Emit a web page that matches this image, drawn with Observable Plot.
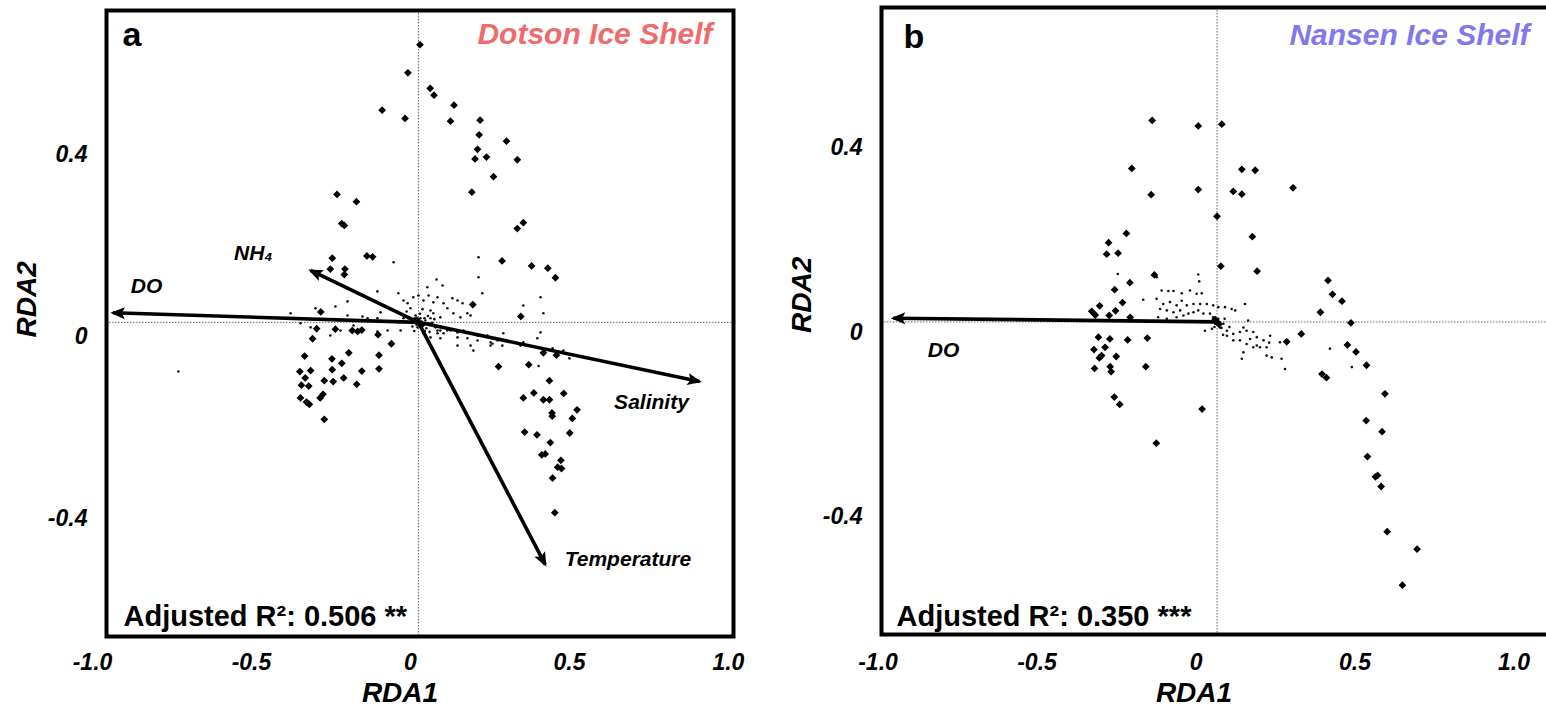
<!DOCTYPE html>
<html>
<head>
<meta charset="utf-8">
<script src="https://cdn.jsdelivr.net/npm/d3@7"></script>
<script src="https://cdn.jsdelivr.net/npm/@observablehq/plot@0.6"></script>
<style>
  html, body { margin: 0; padding: 0; background: #fff; }
  #wrap { display: flex; flex-direction: row; width: 1546px; height: 722px; overflow: hidden; }
  svg { font-family: "Liberation Sans", Arial, sans-serif; }
</style>
</head>
<body>
<div id="wrap"></div>
<script>
// ---------- Data (RDA1, RDA2) ----------
const xTicks = [-1.0, -0.5, 0, 0.5, 1.0];
const yTicks = [-0.4, 0, 0.4];

// Panel a: Dotson Ice Shelf
const originA = [0.025, 0.031];
const sitesA = [
  [0.030,0.641],[-0.008,0.579],[0.062,0.545],[0.074,0.530],[-0.089,0.497],[-0.017,0.479],[0.137,0.508],[0.126,0.473],
  [0.219,0.475],[0.216,0.443],[0.302,0.429],[0.211,0.411],[0.239,0.394],[0.203,0.390],[0.336,0.388],[0.261,0.351],
  [0.193,0.317],[-0.231,0.312],[-0.170,0.296],[-0.216,0.248],[-0.208,0.244],[0.355,0.250],[0.336,0.237],[-0.137,0.177],
  [-0.119,0.175],[-0.246,0.172],[0.288,0.166],[0.381,0.155],[0.432,0.150],[0.456,0.129],[-0.252,0.148],[-0.206,0.148],
  [-0.208,0.136],[0.196,0.070],[0.347,0.044],[-0.282,0.054],[-0.295,0.017],[-0.236,0.016],[-0.183,0.013],[-0.166,0.011],
  [-0.153,0.014],[-0.308,-0.005],[-0.102,0.004],[-0.060,-0.016],[-0.194,-0.036],[-0.099,-0.041],[-0.333,-0.043],[-0.247,-0.049],
  [-0.216,-0.059],[-0.348,-0.077],[-0.314,-0.075],[-0.153,-0.076],[-0.099,-0.071],[-0.331,-0.091],[-0.271,-0.097],[-0.246,-0.073],
  [-0.210,-0.091],[-0.169,-0.105],[-0.343,-0.107],[-0.320,-0.109],[-0.243,-0.099],[-0.275,-0.127],[-0.346,-0.135],[-0.327,-0.144],
  [-0.318,-0.149],[-0.284,-0.135],[-0.271,-0.182],[0.277,-0.066],[0.372,-0.062],[0.418,-0.036],[0.459,-0.041],[0.437,-0.097],
  [0.355,-0.135],[0.388,-0.124],[0.418,-0.139],[0.437,-0.139],[0.482,-0.125],[0.445,-0.168],[0.446,-0.175],[0.524,-0.161],
  [0.509,-0.180],[0.359,-0.210],[0.398,-0.216],[0.440,-0.233],[0.501,-0.212],[0.413,-0.260],[0.424,-0.258],[0.473,-0.272],
  [0.463,-0.287],[0.475,-0.290],[0.447,-0.311],[0.454,-0.387],[0.025,0.031],[0.035,0.025],[0.020,0.036]
];
const speciesA = [
  [-0.053,0.163],[0.214,0.174],[0.214,0.130],[0.226,0.095],[0.101,0.112],[0.082,0.125],[0.053,0.108],[-0.038,0.095],
  [-0.104,0.099],[-0.198,0.077],[-0.236,0.066],[-0.198,0.046],[-0.135,0.040],[-0.104,0.040],[-0.022,0.079],[-0.009,0.073],
  [0.000,0.062],[0.009,0.086],[0.025,0.090],[0.041,0.079],[0.057,0.090],[0.072,0.075],[0.085,0.086],[0.104,0.073],
  [0.132,0.084],[0.148,0.079],[0.164,0.073],[0.116,0.062],[0.135,0.051],[0.157,0.042],[0.179,0.051],[0.189,0.046],
  [0.063,0.057],[0.072,0.051],[0.094,0.042],[0.016,0.046],[0.031,0.040],[0.047,0.035],[0.006,0.031],[0.038,0.024],
  [0.057,0.029],[0.079,0.020],[-0.022,0.040],[-0.038,0.031],[0.094,0.013],[0.085,0.007],[0.116,0.013],[0.085,0.013],
  [0.104,0.007],[0.126,0.013],[0.148,0.009],[0.167,0.013],[0.189,0.007],[0.211,0.002],[0.148,-0.002],[0.179,-0.004],
  [0.211,-0.009],[0.242,0.002],[0.252,-0.013],[0.189,-0.020],[0.148,-0.020],[0.094,-0.004],[0.063,-0.002],[0.041,0.007],
  [0.274,-0.009],[0.289,-0.020],[0.198,-0.031],[0.252,-0.020],[0.346,-0.020],[0.292,0.007],[0.355,-0.013],[0.399,-0.004],
  [0.409,0.009],[0.447,-0.026],[0.481,-0.031],[0.355,0.068],[0.409,0.086],[0.418,0.051],[-0.031,0.013],[-0.072,0.013],
  [-0.104,0.011],[-0.179,0.024],[-0.220,0.013],[-0.314,0.020],[-0.346,0.029],[-0.252,0.002],[-0.151,0.044],[-0.094,0.053],
  [-0.299,0.062],[-0.377,0.051],[-0.730,-0.077],[0.025,0.035],[0.019,0.026],[0.031,0.022],[0.044,0.040],[0.013,0.040],
  [0.028,0.031],[0.035,0.033],[0.022,0.020],[0.050,0.018],[0.006,0.022],[0.063,0.040],[-0.006,0.040],[0.403,-0.065],
  [0.500,-0.048],[0.258,-0.016],[0.030,0.050],[0.045,0.012],[0.012,0.012],[0.055,0.045],[0.068,0.030],[-0.012,0.055],
  [0.038,0.060],[0.060,0.010],[0.000,0.030],[0.075,0.038]
];
const arrowNamesA = ["DO", "NH\u2084", "Salinity", "Temperature"];
const arrowTipsA = [[-0.936,0.052],[-0.314,0.145],[0.909,-0.099],[0.424,-0.501]];
const arrowLabelPosA = [[-0.830,0.110],[-0.494,0.183],[0.758,-0.145],[0.684,-0.490]];

// Panel b: Nansen Ice Shelf
const originB = [0.066, 0.023];
const sitesB = [
  [-0.138,0.460],[0.007,0.448],[0.081,0.452],[-0.202,0.356],[0.144,0.354],[0.186,0.352],[0.007,0.310],[-0.141,0.299],
  [0.117,0.306],[0.144,0.300],[0.305,0.314],[0.066,0.252],[-0.219,0.215],[0.177,0.208],[-0.275,0.195],[-0.281,0.170],
  [-0.245,0.172],[0.078,0.144],[0.192,0.133],[-0.131,0.125],[-0.208,0.108],[-0.256,0.093],[-0.231,0.065],[-0.303,0.058],
  [-0.328,0.046],[-0.317,0.038],[-0.273,0.037],[-0.253,0.047],[-0.207,0.033],[0.415,0.113],[0.429,0.083],[0.459,0.068],
  [0.391,0.044],[0.487,0.021],[0.331,-0.003],[0.285,-0.020],[-0.307,-0.010],[-0.271,-0.014],[-0.215,-0.016],[-0.153,-0.012],
  [-0.321,-0.037],[-0.286,-0.032],[-0.297,-0.050],[-0.304,-0.055],[-0.251,-0.052],[-0.319,-0.078],[-0.270,-0.074],[-0.267,-0.085],
  [-0.158,-0.074],[-0.257,-0.140],[-0.240,-0.156],[0.019,-0.166],[-0.125,-0.240],[0.476,-0.027],[0.503,-0.042],[0.536,-0.071],
  [0.396,-0.090],[0.410,-0.098],[0.594,-0.133],[0.535,-0.191],[0.585,-0.215],[0.539,-0.269],[0.564,-0.313],[0.571,-0.310],
  [0.582,-0.334],[0.601,-0.432],[0.695,-0.470],[0.649,-0.548],[0.066,0.023],[0.072,0.018],[0.060,0.028]
];
const speciesB = [
  [-0.246,0.127],[-0.129,0.127],[-0.124,0.120],[0.007,0.126],[0.010,0.111],[-0.166,0.071],[-0.108,0.091],[-0.087,0.090],
  [-0.071,0.090],[-0.045,0.085],[-0.019,0.091],[0.002,0.084],[0.018,0.085],[-0.124,0.073],[-0.103,0.062],[-0.082,0.066],
  [-0.061,0.059],[-0.045,0.069],[-0.029,0.059],[-0.008,0.062],[0.013,0.062],[0.034,0.062],[0.054,0.059],[0.070,0.055],
  [0.091,0.055],[0.112,0.051],[0.123,0.048],[0.154,0.062],[-0.113,0.051],[-0.092,0.048],[-0.071,0.044],[-0.050,0.048],
  [-0.024,0.041],[-0.008,0.044],[0.007,0.048],[0.023,0.041],[0.044,0.041],[-0.119,0.033],[-0.092,0.030],[-0.061,0.033],
  [-0.040,0.037],[0.054,0.033],[0.065,0.026],[0.070,0.030],[0.060,0.019],[0.075,0.022],[0.086,0.019],[0.049,0.022],
  [0.075,0.011],[0.097,0.004],[0.117,-0.003],[0.138,0.001],[0.149,0.011],[0.159,0.004],[0.180,0.001],[0.191,-0.010],
  [0.170,-0.014],[0.138,-0.017],[0.159,-0.025],[0.180,-0.032],[0.201,-0.032],[0.222,-0.032],[0.233,-0.007],[0.212,-0.017],
  [0.191,-0.028],[0.149,-0.043],[0.144,-0.057],[0.222,-0.050],[0.238,-0.054],[0.269,-0.057],[0.280,-0.079],[0.264,-0.021],
  [0.164,0.026],[0.028,0.004],[0.421,-0.035],[0.490,-0.075],[0.117,-0.017],[0.097,-0.007],[0.230,-0.022],
  [0.080,0.010],[0.090,0.030],[0.058,0.012],[0.105,0.012],[0.085,-0.005],[0.050,0.008]
];
const arrowNamesB = ["DO"];
const arrowTipsB = [[-0.952,0.031]];
const arrowLabelPosB = [[-0.794,-0.039]];

const panelLetters = ["a", "b"];
const panelTitles = ["Dotson Ice Shelf", "Nansen Ice Shelf"];
const r2Labels = ["Adjusted R\u00B2: 0.506 **", "Adjusted R\u00B2: 0.350 ***"];
const xTitle = "RDA1";
const yTitle = "RDA2";

// ---------- helpers ----------
const pts = arr => arr.map(([x, y]) => ({x, y}));
const fmt = d => d === 0 ? "0" : d.toFixed(1);
const FONT = "Liberation Sans, Arial, sans-serif";

// filled triangular arrowhead marker
function filledArrow(color, context) {
  const doc = (context && context.document) || document;
  const ns = "http://www.w3.org/2000/svg";
  const m = doc.createElementNS(ns, "marker");
  m.setAttribute("viewBox", "-13 -7 16 14");
  m.setAttribute("markerWidth", "16");
  m.setAttribute("markerHeight", "14");
  m.setAttribute("markerUnits", "userSpaceOnUse");
  m.setAttribute("orient", "auto");
  m.setAttribute("refX", "0");
  m.setAttribute("refY", "0");
  m.setAttribute("fill", color === "currentColor" ? "#000" : color);
  m.setAttribute("stroke", "none");
  const p = doc.createElementNS(ns, "path");
  p.setAttribute("d", "M2.5,0L-12,-6L-9,0L-12,6Z");
  m.appendChild(p);
  return m;
}

function panel(cfg) {
  const arrows = cfg.names.map((name, i) => ({
    name,
    x1: cfg.origin[0], y1: cfg.origin[1],
    x2: cfg.tips[i][0], y2: cfg.tips[i][1],
    lx: cfg.labels[i][0], ly: cfg.labels[i][1]
  }));
  return Plot.plot({
    width: cfg.width, height: 722,
    marginLeft: cfg.ml, marginRight: cfg.mr, marginTop: cfg.mt, marginBottom: cfg.mb,
    x: {domain: cfg.xd},
    y: {domain: cfg.yd},
    style: {fontFamily: FONT, background: "white", overflow: "hidden"},
    marks: [
      Plot.ruleX([cfg.origin[0]], {stroke: "#666", strokeWidth: 1, strokeDasharray: "1.5,1.5"}),
      Plot.ruleY([cfg.origin[1]], {stroke: "#666", strokeWidth: 1, strokeDasharray: "1.5,1.5"}),
      Plot.dot(pts(cfg.species), {x: "x", y: "y", r: 1.3, fill: "#111", stroke: null}),
      Plot.dot(pts(cfg.sites), {x: "x", y: "y", r: 3.5, symbol: "diamond2", fill: "#000", stroke: null}),
      Plot.link(arrows, {x1: "x1", y1: "y1", x2: "x2", y2: "y2", stroke: "#000", strokeWidth: 3.6, markerEnd: filledArrow}),
      Plot.text(arrows, {x: "lx", y: "ly", text: "name", fontSize: 21, fontWeight: "bold", fontStyle: "italic", fill: "#000"}),
      Plot.frame({stroke: "#000", strokeWidth: 4, insetRight: cfg.frameInsetRight}),
      Plot.axisX({ticks: xTicks, tickFormat: fmt, tickSize: 0, tickPadding: cfg.xpad, fontSize: 23, fontWeight: "bold", fontStyle: "italic", label: null}),
      Plot.axisY({ticks: yTicks, tickFormat: fmt, tickSize: 0, tickPadding: 19, fontSize: 23, fontWeight: "bold", fontStyle: "italic", label: null}),
      Plot.text([xTitle], {frameAnchor: "bottom", text: d => d, dx: -20, dy: cfg.xtdy, lineAnchor: "middle", fontSize: 28, fontWeight: "bold", fontStyle: "italic"}),
      Plot.text([yTitle], {frameAnchor: "left", text: d => d, dx: -79, dy: cfg.ytdy, rotate: -90, lineAnchor: "middle", fontSize: 28, fontWeight: "bold", fontStyle: "italic"}),
      Plot.text([cfg.letter], {frameAnchor: "top-left", text: d => d, dx: cfg.ldx, dy: cfg.ldy, textAnchor: "start", lineAnchor: "bottom", fontSize: 34, fontWeight: "bold"}),
      Plot.text([cfg.title], {frameAnchor: "top-right", text: d => d, dx: cfg.tdx, dy: cfg.tdy, textAnchor: "end", lineAnchor: "bottom", fontSize: 30, fontWeight: "bold", fontStyle: "italic", fill: cfg.color}),
      Plot.text([cfg.r2], {frameAnchor: "bottom-left", text: d => d, dx: cfg.rdx, dy: cfg.rdy, textAnchor: "start", lineAnchor: "bottom", fontSize: 29, fontWeight: "bold"})
    ]
  });
}

const wrap = document.getElementById("wrap");
wrap.appendChild(panel({
  width: 760, ml: 106, mr: 27, mt: 10, mb: 86,
  xd: [-0.956, 1.016], yd: [-0.659, 0.716],
  origin: originA, sites: sitesA, species: speciesA,
  names: arrowNamesA, tips: arrowTipsA, labels: arrowLabelPosA,
  frameInsetRight: 0, xpad: 17, xtdy: 57, ytdy: 14,
  letter: panelLetters[0], ldx: 16, ldy: 35,
  title: panelTitles[0], color: "#ef6b6b", tdx: -21, tdy: 33,
  r2: r2Labels[0], rdx: 17, rdy: -11
}));
wrap.appendChild(panel({
  width: 786, ml: 121, mr: 0, mt: 7, mb: 88,
  xd: [-0.989, 1.102], yd: [-0.655, 0.705],
  origin: originB, sites: sitesB, species: speciesB,
  names: arrowNamesB, tips: arrowTipsB, labels: arrowLabelPosB,
  frameInsetRight: -12, xpad: 19, xtdy: 59, ytdy: 12,
  letter: panelLetters[1], ldx: 22, ldy: 40,
  title: panelTitles[1], color: "#8377ec", tdx: -17, tdy: 37,
  r2: r2Labels[1], rdx: 15, rdy: -9
}));
</script>
</body>
</html>
